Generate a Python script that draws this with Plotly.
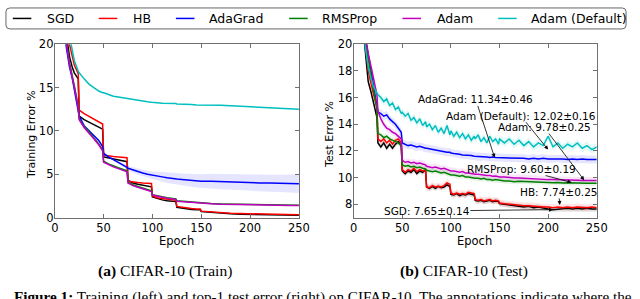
import plotly.graph_objects as go

W, H = 640, 299

names = ["SGD", "HB", "AdaGrad", "RMSProp", "Adam", "Adam (Default)"]
colors = ["#000000", "#ff0000", "#0000ff", "#008000", "#bf00bf", "#00bfbf"]

# ---------------- training error (left) ----------------
train_epochs = [1, 10, 12, 15, 18, 20, 24,
                25, 30, 35, 40, 45, 49,
                50, 55, 60, 65, 70, 74,
                75, 80, 85, 90, 95, 99,
                100, 105, 110, 115, 120, 124,
                125, 130, 135, 140, 145, 149,
                150, 160, 170, 180, 190, 200, 210, 220, 230, 240, 250]
train_sgd = [80, 23.5, 21.0, 18.6, 17.3, 16.7, 16.0,
             11.7, 11.3, 11.0, 10.7, 10.45, 10.2,
             7.0, 6.9, 6.8, 6.7, 6.55, 6.45,
             4.3, 4.0, 3.85, 3.75, 3.65, 3.55,
             2.4, 2.2, 2.05, 1.95, 1.9, 1.85,
             1.2, 1.1, 1.0, 0.95, 0.92, 0.9,
             0.7, 0.6, 0.5, 0.45, 0.4, 0.37, 0.34, 0.32, 0.3, 0.28, 0.27]
train_hb = [80, 25, 23, 20.0, 18.3, 17.6, 16.6,
            12.4, 12.0, 11.7, 11.4, 11.1, 10.8,
            7.2, 7.1, 7.05, 7.0, 6.95, 6.9,
            4.2, 4.1, 4.05, 4.0, 4.0, 3.95,
            2.5, 2.3, 2.2, 2.1, 2.05, 2.0,
            1.3, 1.2, 1.1, 1.05, 1.0, 1.0,
            0.75, 0.65, 0.55, 0.5, 0.47, 0.44, 0.41, 0.39, 0.37, 0.35, 0.34]
train_adagrad = [70, 21.5, 19.5, 17.4, 16.0, 14.8, 12.6,
                 11.7, 10.6, 10.0, 9.5, 8.9, 8.2,
                 7.4, 7.0, 6.7, 6.4, 6.1, 5.8,
                 5.7, 5.5, 5.3, 5.15, 5.0, 4.9,
                 4.9, 4.8, 4.7, 4.6, 4.5, 4.45,
                 4.45, 4.4, 4.35, 4.3, 4.25, 4.2,
                 4.2, 4.2, 4.15, 4.1, 4.1, 4.05, 4.0, 4.0, 3.95, 3.95, 3.9]
train_adagrad_band = [0.1, 0.1, 0.1, 0.1, 0.1, 0.1, 0.1,
                      0.1, 0.1, 0.1, 0.1, 0.12, 0.12,
                      0.15, 0.15, 0.18, 0.2, 0.22, 0.25,
                      0.25, 0.3, 0.35, 0.4, 0.42, 0.45,
                      0.45, 0.5, 0.55, 0.6, 0.62, 0.65,
                      0.65, 0.7, 0.72, 0.75, 0.78, 0.8,
                      0.8, 0.85, 0.88, 0.9, 0.92, 0.95, 0.97, 1.0, 1.0, 1.02, 1.05]
train_rmsprop = [70, 22.5, 20.2, 17.9, 16.3, 15.3, 12.9,
                 11.4, 10.5, 9.9, 9.2, 8.5, 7.8,
                 6.5, 6.2, 5.95, 5.75, 5.55, 5.4,
                 4.1, 3.8, 3.6, 3.4, 3.2, 3.1,
                 2.65, 2.5, 2.4, 2.3, 2.2, 2.15,
                 1.95, 1.9, 1.85, 1.8, 1.75, 1.72,
                 1.68, 1.62, 1.58, 1.55, 1.52, 1.5, 1.48, 1.46, 1.44, 1.43, 1.42]
train_adam = [70, 22.3, 20.0, 17.7, 16.1, 15.1, 12.7,
              11.3, 10.4, 9.8, 9.1, 8.4, 7.7,
              6.4, 6.1, 5.85, 5.65, 5.45, 5.3,
              4.0, 3.7, 3.5, 3.3, 3.1, 3.0,
              2.6, 2.45, 2.35, 2.25, 2.15, 2.1,
              1.9, 1.85, 1.8, 1.75, 1.7, 1.68,
              1.65, 1.6, 1.55, 1.52, 1.5, 1.47, 1.45, 1.43, 1.42, 1.4, 1.4]
train_adam_default = [60, 28, 24, 21.0, 19.0, 18.1, 16.9,
                      16.7, 16.0, 15.4, 15.0, 14.6, 14.4,
                      14.4, 14.2, 14.0, 13.9, 13.8, 13.7,
                      13.7, 13.6, 13.5, 13.45, 13.35, 13.3,
                      13.3, 13.25, 13.2, 13.2, 13.15, 13.15,
                      13.1, 13.1, 13.05, 13.05, 13.0, 13.0,
                      13.0, 12.95, 12.95, 12.9, 12.85, 12.8, 12.75, 12.7, 12.65, 12.6, 12.5]

# ---------------- test error (right) ----------------
test_epochs = [1, 8, 10, 12, 15, 18, 20, 22, 24,
               25, 28, 31, 34, 37, 40, 43, 46, 49,
               50, 53, 56, 59, 62, 65, 68, 71, 74,
               75, 78, 81, 84, 87, 90, 93, 96, 99,
               100, 103, 106, 109, 112, 115, 118, 121, 124,
               125, 128, 131, 134, 137, 140, 143, 146, 149,
               150, 155, 160, 165, 170, 175, 180, 185, 190, 195, 200,
               205, 210, 215, 220, 225, 230, 235, 240, 245, 250]
test_sgd = [60, 24, 21.0, 19.3, 17.2, 16.4, 15.8, 15.2, 14.5,
            12.6, 12.3, 12.6, 12.2, 12.5, 12.2, 12.5, 12.7, 12.4,
            10.5, 10.3, 10.5, 10.4, 10.6, 10.3, 10.5, 10.4, 10.6,
            9.3, 9.2, 9.35, 9.2, 9.35, 9.25, 9.3, 9.45, 9.35,
            8.75, 8.7, 8.8, 8.65, 8.75, 8.7, 8.8, 8.75, 8.7,
            8.3, 8.25, 8.3, 8.2, 8.25, 8.3, 8.2, 8.25, 8.2,
            8.05, 8.0, 7.95, 7.9, 7.9, 7.8, 7.85, 7.75, 7.8, 7.7, 7.65,
            7.6, 7.65, 7.7, 7.7, 7.65, 7.7, 7.65, 7.7, 7.65, 7.65]
test_hb = [60, 25, 22, 20.0, 18.0, 17.0, 16.4, 15.8, 15.2,
           12.9, 12.7, 12.9, 12.6, 12.8, 12.5, 12.8, 12.9, 12.6,
           10.6, 10.4, 10.6, 10.5, 10.7, 10.45, 10.6, 10.5, 10.55,
           9.3, 9.25, 9.4, 9.3, 9.35, 9.3, 9.4, 9.6, 9.5,
           8.85, 8.75, 8.85, 8.75, 8.8, 8.75, 8.9, 8.85, 8.8,
           8.35, 8.3, 8.35, 8.25, 8.3, 8.35, 8.25, 8.3, 8.25,
           8.1, 8.05, 8.0, 7.95, 7.95, 7.9, 7.9, 7.85, 7.85, 7.8, 7.8,
           7.75, 7.8, 7.75, 7.8, 7.75, 7.8, 7.75, 7.75, 7.8, 7.75]
test_adagrad = [60, 24, 22, 20.5, 19.2, 17.8, 16.8, 16.2, 15.4,
                14.9, 14.8, 14.6, 14.7, 14.4, 14.2, 14.0, 13.7, 13.4,
                12.6, 12.5, 12.4, 12.45, 12.35, 12.3, 12.35, 12.25, 12.2,
                12.2, 12.15, 12.1, 12.1, 12.0, 12.0, 11.95, 11.9, 11.9,
                11.85, 11.8, 11.8, 11.75, 11.7, 11.7, 11.65, 11.65, 11.6,
                11.6, 11.6, 11.55, 11.6, 11.55, 11.5, 11.55, 11.5, 11.5,
                11.5, 11.5, 11.45, 11.5, 11.45, 11.45, 11.4, 11.45, 11.4, 11.45, 11.4,
                11.4, 11.45, 11.4, 11.35, 11.4, 11.35, 11.4, 11.35, 11.35, 11.35]
test_rmsprop = [60, 25, 22, 20.2, 18.8, 17.6, 16.8, 16.0, 15.2,
                13.3, 13.2, 13.0, 13.1, 12.9, 12.8, 12.7, 12.6, 12.4,
                10.95, 10.85, 10.9, 10.8, 10.85, 10.75, 10.8, 10.7, 10.65,
                10.55, 10.5, 10.45, 10.5, 10.4, 10.35, 10.4, 10.3, 10.25,
                10.2, 10.2, 10.15, 10.1, 10.15, 10.05, 10.05, 10.0, 10.0,
                9.95, 9.95, 9.9, 9.95, 9.85, 9.85, 9.8, 9.85, 9.8,
                9.8, 9.75, 9.75, 9.7, 9.72, 9.7, 9.68, 9.65, 9.67, 9.65, 9.63,
                9.62, 9.64, 9.6, 9.62, 9.6, 9.58, 9.6, 9.57, 9.58, 9.57]
test_adam = [60, 24, 22, 20.8, 19.3, 18.3, 17.6, 17.1, 16.2,
             15.0, 14.4, 14.0, 13.7, 13.6, 13.4, 13.3, 13.1, 12.9,
             11.3, 11.15, 11.2, 11.1, 11.15, 11.05, 11.1, 11.0, 10.95,
             10.85, 10.8, 10.75, 10.8, 10.7, 10.65, 10.7, 10.6, 10.55,
             10.5, 10.5, 10.45, 10.4, 10.45, 10.35, 10.35, 10.3, 10.3,
             10.25, 10.25, 10.2, 10.2, 10.15, 10.15, 10.1, 10.12, 10.08,
             10.05, 10.05, 10.0, 9.98, 9.98, 9.95, 9.92, 9.9, 9.9, 9.88, 9.85,
             9.85, 9.83, 9.82, 9.82, 9.8, 9.8, 9.79, 9.8, 9.78, 9.78]
test_adam_default = [60, 24, 21.5, 19.8, 18.3, 17.4, 16.9, 16.6, 16.3,
                     16.2, 16.0, 15.7, 15.9, 15.4, 15.6, 15.1, 15.3, 14.8,
                     14.9, 14.6, 14.8, 14.3, 14.5, 14.1, 14.4, 13.9, 14.2,
                     13.8, 14.0, 13.6, 13.9, 13.4, 13.7, 13.3, 13.9, 13.2,
                     13.5, 13.1, 13.4, 13.0, 13.3, 12.9, 13.2, 12.8, 13.1,
                     12.9, 13.2, 12.7, 13.0, 12.6, 13.1, 12.7, 12.9, 12.5,
                     12.9, 12.6, 12.9, 12.5, 12.8, 12.4, 12.7, 12.3, 12.6, 12.4, 13.1,
                     12.3, 12.6, 12.2, 12.5, 12.3, 12.6, 12.2, 12.4, 12.1, 12.3]
test_band = [0.2, 0.25, 0.3, 0.2, 0.25, 0.3]

# annotation texts with the annotated points (epoch, error)
ann_texts = ["AdaGrad: 11.34±0.46", "Adam (Default): 12.02±0.16", "Adam: 9.78±0.25",
             "RMSProp: 9.60±0.19", "HB: 7.74±0.25", "SGD: 7.65±0.14"]
ann_epoch = [145, 200, 237, 224, 212, 205]
ann_value = [11.5, 12.1, 9.81, 9.64, 7.95, 7.6]

train_series = [train_sgd, train_hb, train_adagrad, train_rmsprop, train_adam, train_adam_default]
test_series = [test_sgd, test_hb, test_adagrad, test_rmsprop, test_adam, test_adam_default]
for s in train_series + [train_adagrad_band]:
    assert len(s) == len(train_epochs), len(s)
for s in test_series:
    assert len(s) == len(test_epochs), len(s)

# ---------------- layout constants (pixels) ----------------
def px(x):
    return x / W


def py(y):
    return 1 - y / H


FONT = "DejaVu Sans"
SERIF = "Liberation Serif"
AXC = "#707070"


def rgba(hexc, a):
    h = hexc.lstrip("#")
    r, g, b = int(h[0:2], 16), int(h[2:4], 16), int(h[4:6], 16)
    return f"rgba({r},{g},{b},{a})"


fig = go.Figure()

# left: band for AdaGrad
upper = [v + b for v, b in zip(train_adagrad, train_adagrad_band)]
lower = [v - b for v, b in zip(train_adagrad, train_adagrad_band)]
fig.add_trace(go.Scatter(x=train_epochs + train_epochs[::-1], y=upper + lower[::-1],
                         fill="toself", fillcolor=rgba(colors[2], 0.1), line=dict(width=0),
                         hoverinfo="skip", showlegend=False, xaxis="x", yaxis="y"))
for name, col, ys in zip(names, colors, train_series):
    fig.add_trace(go.Scatter(x=train_epochs, y=ys, mode="lines", name=name,
                             line=dict(color=col, width=1.5), showlegend=False,
                             xaxis="x", yaxis="y"))

# right: bands then lines
for col, ys, b in zip(colors, test_series, test_band):
    up = [v + b for v in ys]
    lo = [v - b for v in ys]
    fig.add_trace(go.Scatter(x=test_epochs + test_epochs[::-1], y=up + lo[::-1],
                             fill="toself", fillcolor=rgba(col, 0.1), line=dict(width=0),
                             hoverinfo="skip", showlegend=False, xaxis="x2", yaxis="y2"))
for name, col, ys in zip(names, colors, test_series):
    fig.add_trace(go.Scatter(x=test_epochs, y=ys, mode="lines", name=name,
                             line=dict(color=col, width=1.5), showlegend=False,
                             xaxis="x2", yaxis="y2"))

ydom = [py(221), py(39)]
axis_common = dict(showline=True, linecolor=AXC, linewidth=1, mirror="allticks",
                   ticks="inside", ticklen=4, tickcolor=AXC, showgrid=False, zeroline=False,
                   tickfont=dict(family=FONT, size=11.5, color="black"))

annotations = []
shapes = []


def txt(text, x, y, size, family=FONT, xa="center", ya="middle", angle=0):
    return dict(text=text, x=px(x), y=py(y), xref="paper", yref="paper", showarrow=False,
                xanchor=xa, yanchor=ya, textangle=angle,
                font=dict(family=family, size=size, color="black"))


# annotations with arrows (right panel)
ann_text_pos = [(483, 97), (529, 114), (553, 126), (529.5, 170), (568, 194), (433, 214)]
for t, e, v, (tx, ty) in zip(ann_texts, ann_epoch, ann_value, ann_text_pos):
    annotations.append(dict(
        text=t, x=e, y=v, xref="x2", yref="y2",
        ax=(tx - 358) * 250 / 249, ay=20 - (ty - 39) / 14, axref="x2", ayref="y2",
        xanchor="center", yanchor="middle", borderpad=0,
        showarrow=True, arrowhead=2, arrowsize=1, arrowwidth=0.8, arrowcolor="black",
        font=dict(family=FONT, size=10.5, color="black")))

# axis titles and captions
annotations += [
    txt("Epoch", 177, 245, 11.5),
    txt("Epoch", 482, 245, 11.5),
    txt("Training Error %", 28, 134, 11, angle=-90),
    txt("Test Error %", 334, 134, 11, angle=-90),
    txt("<b>(a)</b> CIFAR-10 (Train)", 165, 277, 15.5, family=SERIF),
    txt("<b>(b)</b> CIFAR-10 (Test)", 471, 277, 15.5, family=SERIF),
    txt("<b>Figure 1:</b> Training (left) and top-1 test error (right) on CIFAR-10. "
        "The annotations indicate where the", 8, 293, 15.2, family=SERIF, xa="left", ya="top"),
]

# legend box (rounded)
x0, x1, y0, y1 = px(2), px(637), py(23), py(1)
rx, ry = 4 / W, 4 / H
path = (f"M {x0+rx},{y1} L {x1-rx},{y1} Q {x1},{y1} {x1},{y1-ry} L {x1},{y0+ry} "
        f"Q {x1},{y0} {x1-rx},{y0} L {x0+rx},{y0} Q {x0},{y0} {x0},{y0+ry} "
        f"L {x0},{y1-ry} Q {x0},{y1} {x0+rx},{y1} Z")
shapes.append(dict(type="path", path=path, xref="paper", yref="paper",
                   line=dict(color="#666666", width=1), fillcolor="white"))
leg_line_x = [9, 97, 176, 292, 408, 506]
leg_text_x = [42, 130, 208, 324, 441, 538]
for name, col, lx, tx in zip(names, colors, leg_line_x, leg_text_x):
    shapes.append(dict(type="line", xref="paper", yref="paper", x0=px(lx), x1=px(lx + 19),
                       y0=py(12), y1=py(12), line=dict(color=col, width=1.5)))
    annotations.append(txt(name, tx, 12, 12.5, xa="left"))

fig.update_layout(
    width=W, height=H, margin=dict(l=0, r=0, t=0, b=0),
    paper_bgcolor="white", plot_bgcolor="white", showlegend=False,
    font=dict(family=FONT, color="black"),
    xaxis=dict(domain=[px(52), px(302)], range=[0, 250], tickvals=[0, 50, 100, 150, 200, 250],
               anchor="y", **axis_common),
    yaxis=dict(domain=ydom, range=[0, 20], tickvals=[0, 5, 10, 15, 20], anchor="x",
               ticklabelstandoff=-2, **axis_common),
    xaxis2=dict(domain=[px(358), px(607)], range=[0, 250], tickvals=[0, 50, 100, 150, 200, 250],
                anchor="y2", **axis_common),
    yaxis2=dict(domain=ydom, range=[7, 20], tickvals=[8, 10, 12, 14, 16, 18, 20], anchor="x2",
                ticklabelstandoff=-2, **axis_common),
    annotations=annotations, shapes=shapes,
)

fig.write_html("out.html", config={"displayModeBar": False},
               post_script="document.body.style.margin='0px';"
                           "document.body.style.overflow='hidden';")
